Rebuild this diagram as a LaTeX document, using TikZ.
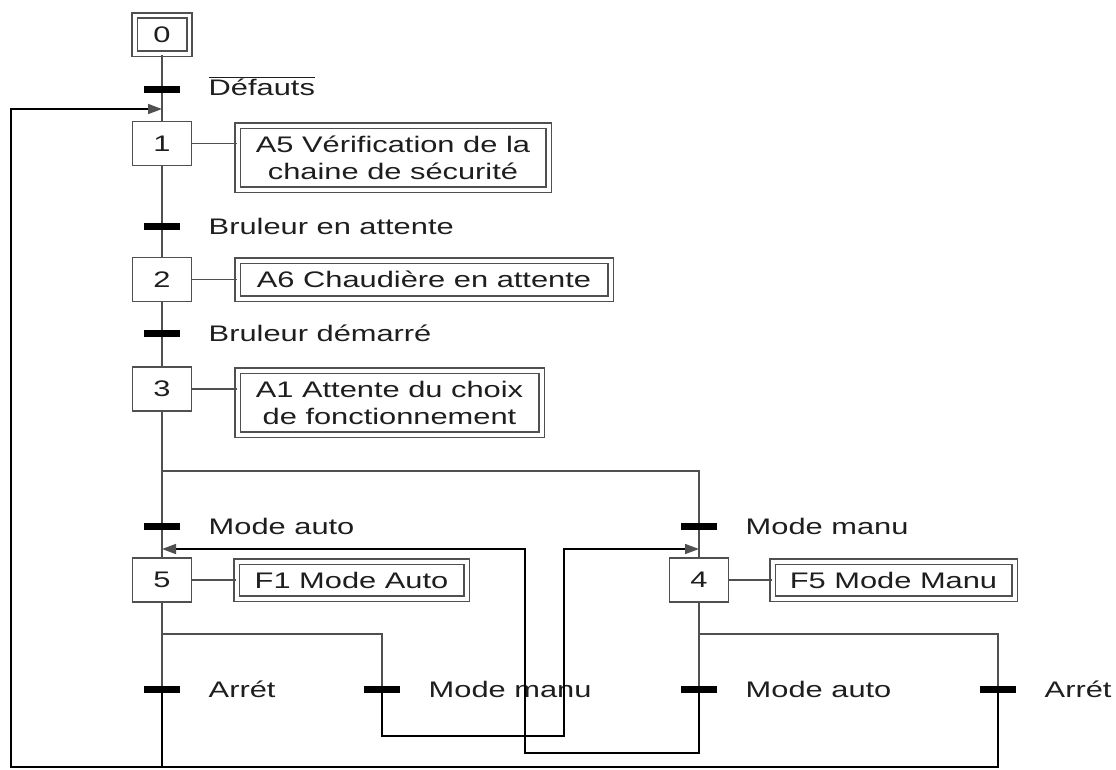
\documentclass[tikz,border=0pt]{standalone}
\usepackage{fontspec}
\setmainfont{Liberation Sans}[FakeStretch=1.37]
\usetikzlibrary{arrows.meta}
\definecolor{linegray}{HTML}{505050}
\definecolor{txtgray}{HTML}{1E1E1E}
\tikzset{
  etape/.style={draw=linegray, line width=1.8pt, fill=white, minimum width=59pt, minimum height=44pt, inner sep=0pt},
  initiale/.style={etape, double, double distance=3.5pt, minimum width=54.5pt, minimum height=38.5pt},
  action/.style={draw=linegray, line width=1.6pt, double, double distance=4pt, fill=white, align=center, inner sep=0pt},
  barre/.style={fill=black, minimum width=36pt, minimum height=7pt, inner sep=0pt},
  lien/.style={draw=linegray, line width=2.4pt},
  retour/.style={draw=black, line width=1.6pt},
  fleche/.style={-{Triangle[length=14pt,width=10pt,color=linegray]}}
}
\begin{document}
\begin{tikzpicture}[x=1pt,y=-1pt,every node/.style={font=\fontsize{22.5}{27}\selectfont,text=txtgray}]
\useasboundingbox (0,0) rectangle (1116,769);

\node[initiale] (s0) at (162,34.5) {0};
\node[etape] (s1) at (162,143.5) {1};
\node[etape] (s2) at (162,279.5) {2};
\node[etape] (s3) at (162,389) {3};
\node[etape] (s5) at (162,580) {5};
\node[etape] (s4) at (699,580) {4};

\node[action, minimum width=311pt, minimum height=64pt] (a1) at (393,157.5) {A5 Vérification de la\\chaine de sécurité};
\node[action, minimum width=373pt, minimum height=38pt] (a2) at (424,279.5) {A6 Chaudière en attente};
\node[action, minimum width=304pt, minimum height=64pt] (a3) at (389.5,402.5) {A1 Attente du choix\\de fonctionnement};
\node[action, minimum width=230pt, minimum height=37pt] (a5) at (351.5,580) {F1 Mode Auto};
\node[action, minimum width=242pt, minimum height=37pt] (a4) at (893.5,580) {F5 Mode Manu};

\foreach \s/\a in {s1/a1,s2/a2,s3/a3,s5/a5,s4/a4}
  \draw[lien, line width=1.8pt] (\s.east) -- (\s.east -| \a.west);

\coordinate (div) at (699,471);
\coordinate (ou5) at (382,634);
\coordinate (ou4) at (998,634);
\coordinate (coin) at (11,767);
\coordinate (entree) at (162,109);
\coordinate (e5) at (162,549);
\coordinate (e4) at (699,549);
\coordinate (r1) at (525,753);
\coordinate (r2) at (564,736);

\draw[lien] (s0) -- (s1);
\draw[lien] (s1) -- (s2);
\draw[lien] (s2) -- (s3);
\draw[lien] (s3) -- (s5);
\draw[lien] (s3 |- div) -- (div) -- (s4);
\draw[lien] (s5) -- (s5 |- 0,689);
\draw[lien] (s5 |- ou5) -- (ou5) -- (ou5 |- 0,689);
\draw[lien] (s4) -- (s4 |- 0,689);
\draw[lien] (s4 |- ou4) -- (ou4) -- (ou4 |- 0,689);

\foreach \n/\x/\y in {t0/162/89, t1/162/226, t2/162/333, t3/162/526, t4/699/526, t5/162/689, t6/382/689, t7/699/689, t8/998/689}
  \node[barre] (\n) at (\x,\y) {};

\foreach \n/\t in {t1/Bruleur en attente, t2/Bruleur démarré, t3/Mode auto, t4/Mode manu, t5/Arrét, t6/Mode manu, t7/Mode auto, t8/Arrét}
  \node[anchor=west] (\n-txt) at ([xshift=25pt]\n.east) {\t};
\node[anchor=west] (t0-txt) at ([xshift=25pt,yshift=3pt]t0.east) {$\overline{\mbox{Défauts}}$};

\draw[retour] (t5) -- (t5 |- coin);
\draw[retour, fleche] (t8) -- (t8 |- coin) -- (coin) -- (coin |- entree) -- (entree);
\draw[retour, fleche] (t7) -- (t7 |- r1) -- (r1) -- (r1 |- e5) -- (e5);
\draw[retour, fleche] (t6) -- (t6 |- r2) -- (r2) -- (r2 |- e4) -- (e4);
\end{tikzpicture}
\end{document}
